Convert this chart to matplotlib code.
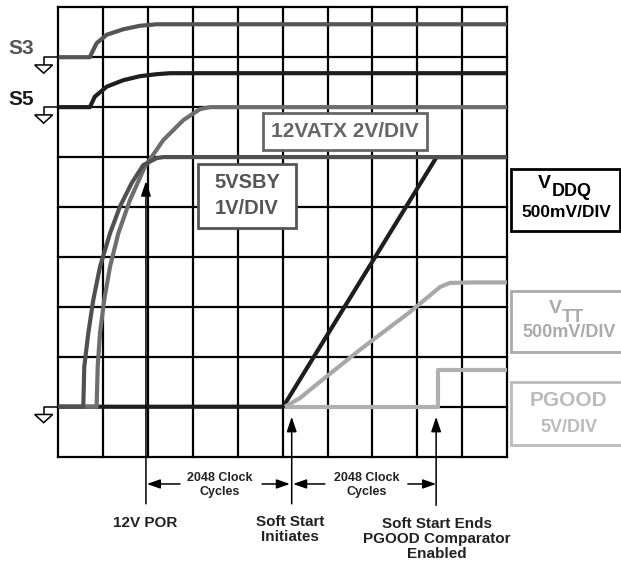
import matplotlib
matplotlib.use("Agg")
import matplotlib.pyplot as plt
from matplotlib.patches import Rectangle, Polygon

plt.rcParams['font.family'] = ['Liberation Sans', 'DejaVu Sans']
plt.rcParams['font.weight'] = 'bold'

# grid: 10 time divisions x 9 amplitude divisions
n_cols = 10
n_rows = 9

# traces (x in divisions, y in divisions)
s3_x = [0, 0.70, 0.74, 0.85, 1.075, 1.445, 1.817, 2.19, 10]
s3_y = [8, 8, 8.08, 8.28, 8.45, 8.56, 8.63, 8.66, 8.66]

s5_x = [0, 0.70, 0.81, 1.075, 1.445, 1.817, 2.19, 2.49, 10]
s5_y = [7, 7, 7.21, 7.41, 7.54, 7.62, 7.66, 7.68, 7.68]

atx_x = [0, 0.85, 0.874, 0.925, 1.02, 1.148, 1.333, 1.594, 1.929, 2.337, 2.783, 3.155, 3.378, 10]
atx_y = [1, 1.0, 1.80, 2.47, 3.14, 3.80, 4.47, 5.14, 5.81, 6.34, 6.74, 6.96, 7.0, 7.0]

vsby_x = [0, 0.553, 0.575, 0.664, 0.776, 0.925, 1.148, 1.371, 1.632, 1.891, 2.19, 2.34, 10]
vsby_y = [1, 1.0, 1.80, 2.47, 3.14, 3.80, 4.47, 5.01, 5.48, 5.84, 5.98, 6.0, 6.0]

vddq_x = [0, 5.01, 8.43, 10]
vddq_y = [1, 1, 6, 6]

vtt_x = [5.05, 5.38, 5.61, 6.72, 7.84, 8.51, 8.73, 9.33, 10]
vtt_y = [1.0, 1.17, 1.34, 2.14, 2.90, 3.40, 3.48, 3.49, 3.49]

pgood_x = [5.05, 8.47, 8.47, 10]
pgood_y = [1, 1, 1.74, 1.74]

# event markers
por_x = 1.95
ss_start_x = 5.2
ss_end_x = 8.42

fig = plt.figure(figsize=(6.21, 5.65), dpi=100)
ax = fig.add_axes([0, 0, 1, 1])
ax.set_xlim(-1.304, 12.542)
ax.set_ylim(-2.17, 9.146)
ax.axis('off')

# scope grid
for i in range(n_cols + 1):
    ax.plot([i, i], [0, n_rows], color='black', lw=1.6, zorder=1)
for j in range(n_rows + 1):
    ax.plot([0, n_cols], [j, j], color='black', lw=1.6, zorder=1)

lw = 3.0
tr = dict(lw=lw, solid_capstyle='butt', solid_joinstyle='round')
ax.plot(s3_x, s3_y, color='#555555', zorder=3, **tr)
ax.plot(s5_x, s5_y, color='#1e1e1e', zorder=3, **tr)
ax.plot(vddq_x, vddq_y, color='#1e1e1e', zorder=3, **tr)
ax.plot(atx_x, atx_y, color='#6e6e6e', zorder=4, **tr)
ax.plot(vsby_x, vsby_y, color='#505050', zorder=5, **tr)
ax.plot(vtt_x, vtt_y, color='#a8a8a8', zorder=4, **tr)
ax.plot(pgood_x, pgood_y, color='#b0b0b0', zorder=4, **tr)

# ground symbols
for yb in [8, 7, 1]:
    ax.plot([0, -0.33, -0.33], [yb, yb, yb - 0.14], color='black', lw=1.1, zorder=2)
    ax.add_patch(Polygon([[-0.53, yb - 0.155], [-0.13, yb - 0.155], [-0.33, yb - 0.32]],
                         closed=True, facecolor='white', edgecolor='black', lw=1.1))

ax.text(-0.825, 8.165, 'S3', color='#555555', fontsize=15, ha='center', va='center')
ax.text(-0.825, 7.16, 'S5', color='#1e1e1e', fontsize=15, ha='center', va='center')

# label boxes
def box(x0, y0, x1, y1, color):
    ax.add_patch(Rectangle((x0, y0), x1 - x0, y1 - y0, facecolor='white',
                           edgecolor=color, lw=2.0, zorder=6, clip_on=False))

box(4.55, 6.14, 8.22, 6.89, '#666666')
ax.text(6.38, 6.52, '12VATX 2V/DIV', color='#666666', fontsize=15, ha='center', va='center', zorder=7)

box(3.11, 4.58, 5.30, 5.86, '#555555')
ax.text(4.2, 5.5, '5VSBY', color='#555555', fontsize=14.5, ha='center', va='center', zorder=7)
ax.text(4.2, 4.98, '1V/DIV', color='#555555', fontsize=14.5, ha='center', va='center', zorder=7)

box(10.1, 4.51, 12.52, 5.755, 'black')
ax.text(10.98, 5.38, 'V', color='black', fontsize=14, ha='right', va='baseline', zorder=7)
ax.text(10.99, 5.22, 'DDQ', color='black', fontsize=13, ha='left', va='baseline', zorder=7)
ax.text(11.32, 4.88, '500mV/DIV', color='black', fontsize=12.5, ha='center', va='center', zorder=7)

box(10.1, 2.10, 12.8, 3.32, '#aaaaaa')
ax.text(11.22, 2.87, 'V', color='#aaaaaa', fontsize=14, ha='right', va='baseline', zorder=7)
ax.text(11.23, 2.70, 'TT', color='#aaaaaa', fontsize=13, ha='left', va='baseline', zorder=7)
ax.text(11.38, 2.48, '500mV/DIV', color='#aaaaaa', fontsize=13, ha='center', va='center', zorder=7)

box(10.1, 0.23, 12.8, 1.50, '#bbbbbb')
ax.text(11.38, 1.125, 'PGOOD', color='#bbbbbb', fontsize=15, ha='center', va='center', zorder=7)
ax.text(11.38, 0.585, '5V/DIV', color='#bbbbbb', fontsize=13, ha='center', va='center', zorder=7)

# vertical event arrows
arrow_kw = dict(arrowstyle='-|>,head_length=0.9,head_width=0.3', color='black', lw=1.1)
ax.annotate('', xy=(por_x, 5.575), xytext=(por_x, -1.0), arrowprops=arrow_kw)
ax.annotate('', xy=(ss_start_x, 0.855), xytext=(ss_start_x, -1.0), arrowprops=arrow_kw)
ax.annotate('', xy=(ss_end_x, 0.855), xytext=(ss_end_x, -1.03), arrowprops=arrow_kw)

# dimension arrows (2048 clock cycles)
dim_y = -0.547
dim_kw = dict(arrowstyle='-|>,head_length=0.8,head_width=0.28', color='black', lw=1.1,
              shrinkA=0, shrinkB=0)
ax.annotate('', xy=(por_x + 0.02, dim_y), xytext=(2.71, dim_y), arrowprops=dim_kw)
ax.annotate('', xy=(ss_start_x - 0.04, dim_y), xytext=(4.54, dim_y), arrowprops=dim_kw)
ax.annotate('', xy=(ss_start_x + 0.03, dim_y), xytext=(5.94, dim_y), arrowprops=dim_kw)
ax.annotate('', xy=(ss_end_x, dim_y), xytext=(7.79, dim_y), arrowprops=dim_kw)
ax.text(3.6, -0.57, '2048 Clock\nCycles', fontsize=9, ha='center', va='center', linespacing=1.15,
        color='#222222')
ax.text(6.88, -0.57, '2048 Clock\nCycles', fontsize=9, ha='center', va='center', linespacing=1.15,
        color='#222222')

ax.text(1.93, -1.33, '12V POR', fontsize=11, ha='center', va='center', color='#222222')
ax.text(5.16, -1.45, 'Soft Start\nInitiates', fontsize=11, ha='center', va='center',
        linespacing=1.1, color='#222222')
ax.text(8.44, -1.65, 'Soft Start Ends\nPGOOD Comparator\nEnabled', fontsize=11,
        ha='center', va='center', linespacing=1.1, color='#222222')

fig.savefig('out.png', dpi=100)
